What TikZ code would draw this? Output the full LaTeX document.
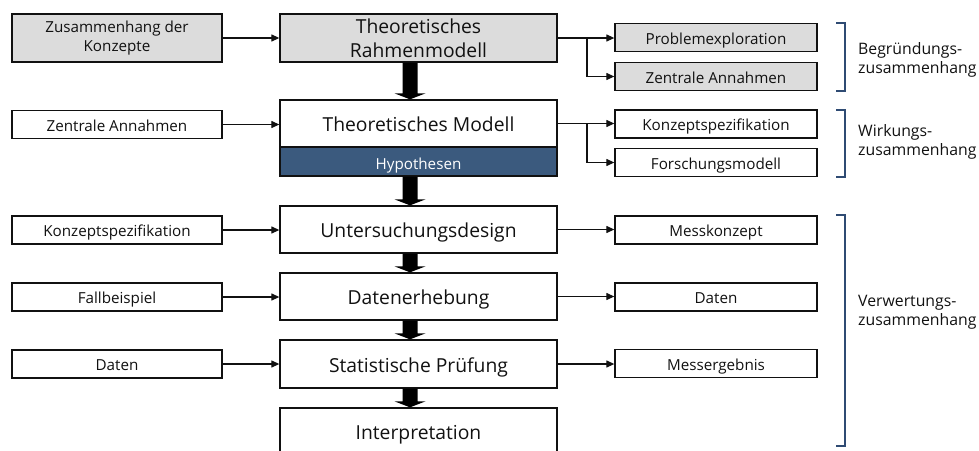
\documentclass[tikz,border=0pt]{standalone}
\usepackage{fontspec}
\setmainfont{Open Sans}
\usetikzlibrary{arrows.meta,calc}
\definecolor{hypblue}{HTML}{3B5A7E}
\definecolor{bracecol}{HTML}{2F4B73}
\definecolor{boxgray}{HTML}{DCDCDC}
\definecolor{ink}{HTML}{111111}
\newcommand\blockarrow[2]{%
  \fill[black] ($(#1.south)+(-16,0)$) -- ($(#1.south)+(-1,0)$) -- ($(#2.north)+(-1,-6)$) -- ($(#2.north)+(7,-6)$) -- ($(#2.north)+(-8.5,0)$) -- ($(#2.north)+(-24,-6)$) -- ($(#2.north)+(-16,-6)$) -- cycle;}
\begin{document}
\begin{tikzpicture}[x=1pt,y=-1pt,
  box/.style={draw=ink,line width=1.3pt,inner sep=0pt,text=ink},
  smallline/.style={text height=14.8pt,text depth=1pt},
  bigline/.style={text height=17.4pt,text depth=1pt},
  twoline/.style={align=center},
  sidebox/.style={box,minimum width=210pt,minimum height=28pt,font=\fontsize{15.2}{19}\selectfont},
  rbox/.style={box,smallline,minimum width=202pt,minimum height=28pt,font=\fontsize{15.2}{19}\selectfont},
  mainbox/.style={box,minimum width=277pt,minimum height=47pt,font=\fontsize{19.3}{24}\selectfont},
  grayfill/.style={fill=boxgray},
  arr/.style={draw=ink,line width=1.2pt,-{Triangle[length=8pt,width=7pt]}},
  brace/.style={draw=bracecol,line width=1.3pt},
  bracelabel/.style={anchor=west,align=left,inner sep=0pt,text=ink,font=\fontsize{15.8}{19}\selectfont}]
\useasboundingbox (0,0) rectangle (979,450);
% main column
\node[mainbox,twoline,grayfill,minimum height=48pt] (trm) at (418.5,38) {Theoretisches\\Rahmenmodell};
\node[mainbox,bigline] (tm) at (418.5,123.5) {Theoretisches Modell};
\node[box,text height=16.3pt,text depth=1pt,fill=hypblue,text=white,minimum width=277pt,minimum height=29pt,font=\fontsize{15.2}{17}\selectfont] (hyp) at (418.5,161.5) {Hypothesen};
\node[mainbox,bigline] (ud) at (418.5,229.5) {Untersuchungsdesign};
\node[mainbox,bigline] (de) at (418.5,296.5) {Datenerhebung};
\node[mainbox,bigline,minimum height=48pt] (sp) at (418.5,364) {Statistische Prüfung};
\node[mainbox,bigline,minimum height=46pt] (ip) at (418.5,431) {Interpretation};
% left boxes
\node[sidebox,twoline,grayfill,minimum height=48pt] (zk) at (117,38) {Zusammenhang der\\Konzepte};
\node[sidebox,smallline] (zal) at (117,124.5) {Zentrale Annahmen};
\node[sidebox,smallline] (ksl) at (117,230) {Konzeptspezifikation};
\node[sidebox,smallline] (fb) at (117,297) {Fallbeispiel};
\node[sidebox,smallline] (dal) at (117,364) {Daten};
% right boxes
\node[rbox,grayfill] (pe) at (716,37.5) {Problemexploration};
\node[rbox,grayfill] (zar) at (716,76.5) {Zentrale Annahmen};
\node[rbox] (ksr) at (716,124) {Konzeptspezifikation};
\node[rbox] (fm) at (716,162.5) {Forschungsmodell};
\node[rbox] (mk) at (716,230) {Messkonzept};
\node[rbox] (dt) at (716,297) {Daten};
\node[rbox] (me) at (716,363.5) {Messergebnis};
% block arrows
\blockarrow{trm}{tm}
\blockarrow{hyp}{ud}
\blockarrow{ud}{de}
\blockarrow{de}{sp}
\blockarrow{sp}{ip}
% left connectors
\draw[arr] (zk.east) -- (zk.east -| trm.west);
\draw[arr] (zal.east) -- (zal.east -| tm.west);
\draw[arr] (ksl.east) -- (ksl.east -| ud.west);
\draw[arr] (fb.east) -- (fb.east -| de.west);
\draw[arr] (dal.east) -- (dal.east -| sp.west);
% right connectors
\coordinate (b1) at (587,38);
\coordinate (b2) at (587,124);
\draw[arr] (trm.east) -- (trm.east -| pe.west);
\draw[arr] (b1) |- (zar.west);
\draw[arr] (tm.east) -- (tm.east -| ksr.west);
\draw[arr] (b2) |- (fm.west);
\draw[arr] (ud.east) -- (ud.east -| mk.west);
\draw[arr] (de.east) -- (de.east -| dt.west);
\draw[arr] (sp.east) -- (sp.east -| me.west);
% braces
\draw[brace] (836,23) -- (845,23) -- (845,91) -- (836,91);
\draw[brace] (836,110) -- (845,110) -- (845,177) -- (836,177);
\draw[brace] (836,215) -- (845,215) -- (845,446) -- (836,446);
\node[bracelabel] (l1) at (858,60) {Begründungs-\\zusammenhang};
\node[bracelabel] (l2) at (858,142) {Wirkungs-\\zusammenhang};
\node[bracelabel] (l3) at (858,312) {Verwertungs-\\zusammenhang};
\end{tikzpicture}
\end{document}
